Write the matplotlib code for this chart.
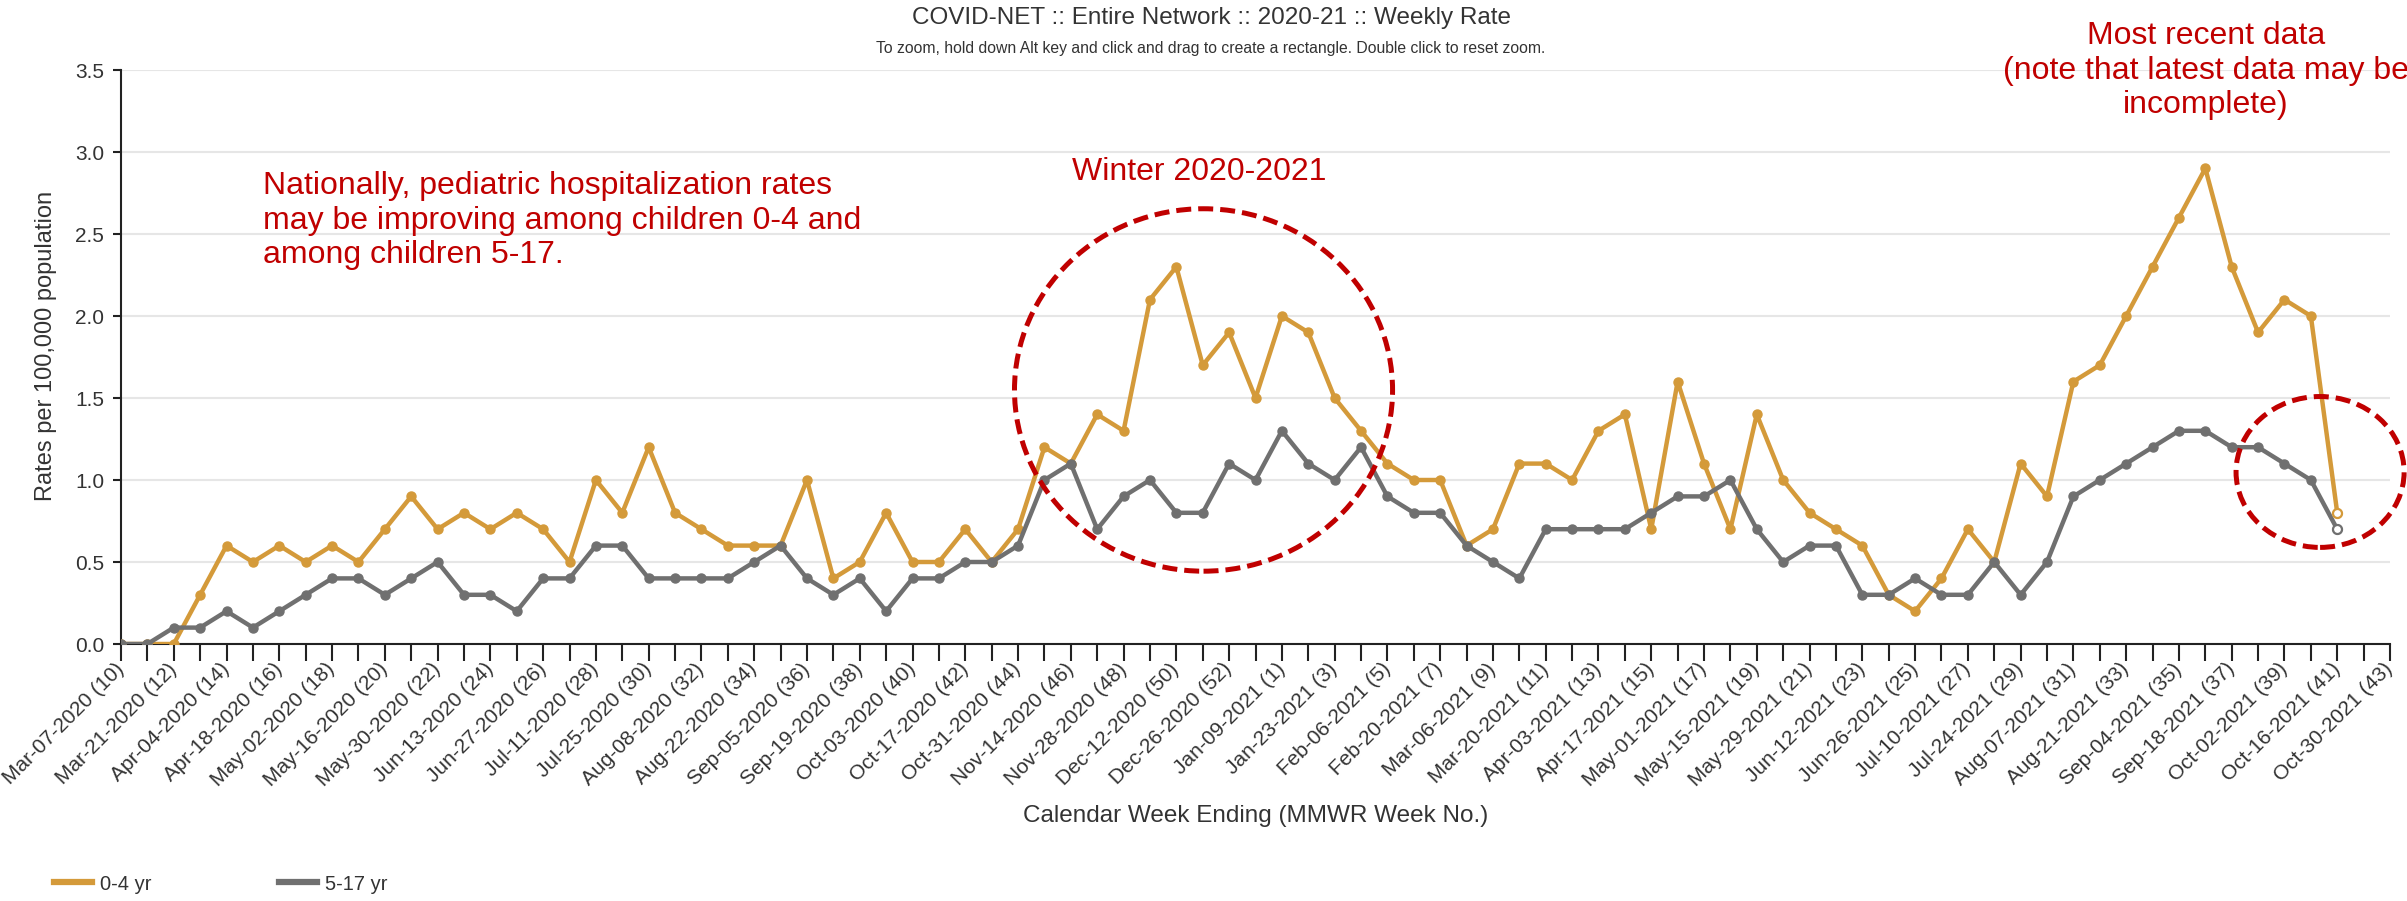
import numpy as np
import matplotlib
matplotlib.use("Agg")
import matplotlib.pyplot as plt
from matplotlib.patches import Ellipse
from matplotlib.lines import Line2D
from matplotlib.transforms import ScaledTranslation

plt.rcParams["font.family"] = ["Liberation Sans", "DejaVu Sans"]

# COVID-NET weekly hospitalization rate per 100,000, Mar-07-2020 (10) .. Oct-16-2021 (41)
rate_0_4 = [0.0, 0.0, 0.0, 0.3, 0.6, 0.5, 0.6, 0.5, 0.6, 0.5, 0.7, 0.9, 0.7, 0.8, 0.7, 0.8,
            0.7, 0.5, 1.0, 0.8, 1.2, 0.8, 0.7, 0.6, 0.6, 0.6, 1.0, 0.4, 0.5, 0.8, 0.5,
            0.5, 0.7, 0.5, 0.7, 1.2, 1.1, 1.4, 1.3, 2.1, 2.3, 1.7, 1.9, 1.5, 2.0, 1.9,
            1.5, 1.3, 1.1, 1.0, 1.0, 0.6, 0.7, 1.1, 1.1, 1.0, 1.3, 1.4, 0.7, 1.6,
            1.1, 0.7, 1.4, 1.0, 0.8, 0.7, 0.6, 0.3, 0.2, 0.4, 0.7, 0.5, 1.1, 0.9, 1.6,
            1.7, 2.0, 2.3, 2.6, 2.9, 2.3, 1.9, 2.1, 2.0, 0.8]
rate_5_17 = [0.0, 0.0, 0.1, 0.1, 0.2, 0.1, 0.2, 0.3, 0.4, 0.4, 0.3, 0.4, 0.5, 0.3, 0.3, 0.2,
             0.4, 0.4, 0.6, 0.6, 0.4, 0.4, 0.4, 0.4, 0.5, 0.6, 0.4, 0.3, 0.4, 0.2, 0.4,
             0.4, 0.5, 0.5, 0.6, 1.0, 1.1, 0.7, 0.9, 1.0, 0.8, 0.8, 1.1, 1.0, 1.3, 1.1,
             1.0, 1.2, 0.9, 0.8, 0.8, 0.6, 0.5, 0.4, 0.7, 0.7, 0.7, 0.7, 0.8, 0.9,
             0.9, 1.0, 0.7, 0.5, 0.6, 0.6, 0.3, 0.3, 0.4, 0.3, 0.3, 0.5, 0.3, 0.5, 0.9,
             1.0, 1.1, 1.2, 1.3, 1.3, 1.2, 1.2, 1.1, 1.0, 0.7]

n_weeks = 87  # Mar-07-2020 (10) .. Oct-30-2021 (43)
week_labels = [
    "Mar-07-2020 (10)", "Mar-21-2020 (12)", "Apr-04-2020 (14)", "Apr-18-2020 (16)",
    "May-02-2020 (18)", "May-16-2020 (20)", "May-30-2020 (22)", "Jun-13-2020 (24)",
    "Jun-27-2020 (26)", "Jul-11-2020 (28)", "Jul-25-2020 (30)", "Aug-08-2020 (32)",
    "Aug-22-2020 (34)", "Sep-05-2020 (36)", "Sep-19-2020 (38)", "Oct-03-2020 (40)",
    "Oct-17-2020 (42)", "Oct-31-2020 (44)", "Nov-14-2020 (46)", "Nov-28-2020 (48)",
    "Dec-12-2020 (50)", "Dec-26-2020 (52)", "Jan-09-2021 (1)", "Jan-23-2021 (3)",
    "Feb-06-2021 (5)", "Feb-20-2021 (7)", "Mar-06-2021 (9)", "Mar-20-2021 (11)",
    "Apr-03-2021 (13)", "Apr-17-2021 (15)", "May-01-2021 (17)", "May-15-2021 (19)",
    "May-29-2021 (21)", "Jun-12-2021 (23)", "Jun-26-2021 (25)", "Jul-10-2021 (27)",
    "Jul-24-2021 (29)", "Aug-07-2021 (31)", "Aug-21-2021 (33)", "Sep-04-2021 (35)",
    "Sep-18-2021 (37)", "Oct-02-2021 (39)", "Oct-16-2021 (41)", "Oct-30-2021 (43)",
]

COR_04 = "#d49a3a"
COR_517 = "#707070"
VERMELHO = "#c00000"
TEXTO = "#333333"

fig = plt.figure(figsize=(24.07, 9.01), dpi=100)
ax = fig.add_axes([121 / 2407, 1 - 644 / 901, (2390 - 121) / 2407, (644 - 70) / 901])

x = np.arange(len(rate_0_4))
for serie, cor in [(rate_0_4, COR_04), (rate_5_17, COR_517)]:
    ax.plot(x, serie, color=cor, lw=3.2, marker="o", ms=6.5, zorder=3)
    ax.plot(x[-1:], serie[-1:], ls="none", marker="o", ms=6.5, mfc="white",
            mec=cor, mew=1.6, zorder=4)

ax.set_xlim(0, n_weeks - 1)
ax.set_ylim(0, 3.5)
ax.set_yticks(np.arange(0, 3.51, 0.5))
ax.set_yticklabels([f"{v:.1f}" for v in np.arange(0, 3.51, 0.5)])
ax.set_xticks(np.arange(0, n_weeks, 2))
ax.set_xticks(np.arange(1, n_weeks, 2), minor=True)
ax.set_xticklabels(week_labels, rotation=45, ha="right", va="center",
                   rotation_mode="anchor")
off = ScaledTranslation(12 / 100, -10 / 100, fig.dpi_scale_trans)
for lab in ax.get_xticklabels():
    lab.set_transform(lab.get_transform() + off)

ax.tick_params(axis="x", which="both", length=12, width=1.5, color="#222222",
               labelsize=15, labelcolor=TEXTO, pad=4)
ax.tick_params(axis="y", length=6, width=1.5, color="#222222", labelsize=15,
               labelcolor=TEXTO, pad=6)
ax.grid(axis="y", color="#e6e6e6", lw=1.5)
ax.set_axisbelow(True)
for s in ["top", "right"]:
    ax.spines[s].set_visible(False)
for s in ["left", "bottom"]:
    ax.spines[s].set_color("#222222")
    ax.spines[s].set_linewidth(1.5)

ax.set_xlabel("Calendar Week Ending (MMWR Week No.)", fontsize=17.5, color=TEXTO,
              va="baseline")
ax.xaxis.set_label_coords(0.5, (644 - 822) / 574)
ax.set_ylabel("Rates per 100,000 population", fontsize=17, color=TEXTO, va="center")
ax.yaxis.set_label_coords(-0.033, 0.52)

fig.text(1212 / 2407, 1 - 18 / 901, "COVID-NET :: Entire Network :: 2020-21 :: Weekly Rate",
         ha="center", va="center", fontsize=17.5, color=TEXTO)
fig.text(1211 / 2407, 1 - 49 / 901,
         "To zoom, hold down Alt key and click and drag to create a rectangle. "
         "Double click to reset zoom.",
         ha="center", va="center", fontsize=11.3, color=TEXTO)

# anotações em vermelho
fig.text(263 / 2407, 1 - 171 / 901,
         "Nationally, pediatric hospitalization rates\n"
         "may be improving among children 0-4 and\n"
         "among children 5-17.",
         ha="left", va="top", fontsize=23, color=VERMELHO)
fig.text(1199 / 2407, 1 - 180 / 901, "Winter 2020-2021", ha="center", va="baseline",
         fontsize=23, color=VERMELHO)
fig.text(2206 / 2407, 1 - 21 / 901,
         "Most recent data\n(note that latest data may be\nincomplete)",
         ha="center", va="top", multialignment="center", fontsize=23, color=VERMELHO)

for cx, cy, w, h in [(41.03, 1.549, 14.33, 2.21), (83.35, 1.049, 6.37, 0.92)]:
    ax.add_patch(Ellipse((cx, cy), w, h, fill=False, ec=VERMELHO, lw=3.6,
                         ls=(0, (3, 1.4)), clip_on=False, zorder=5))

handles = [Line2D([], [], color=COR_04, lw=4.5), Line2D([], [], color=COR_517, lw=4.5)]
fig.legend(handles, ["0-4 yr", "5-17 yr"], loc="center left",
           bbox_to_anchor=(54 / 2407, 1 - 884 / 901), ncol=2, frameon=False,
           fontsize=14.5, handlelength=1.9, handletextpad=0.4, columnspacing=6.3,
           borderpad=0, borderaxespad=0, labelcolor=TEXTO)

fig.savefig("out.png", dpi=100)
